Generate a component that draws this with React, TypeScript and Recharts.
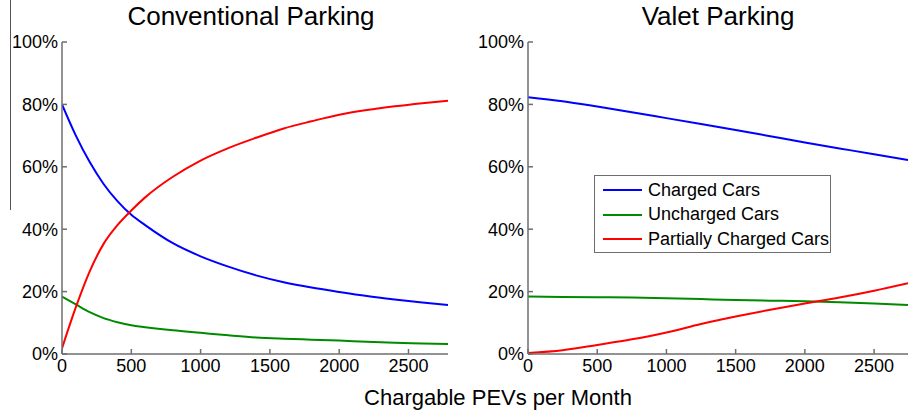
import { Line, LineChart, XAxis, YAxis } from "recharts";

// Conventional parking (left panel), values in %
const convX = [0, 100, 200, 300, 400, 500, 600, 800, 1000, 1200, 1400, 1600, 1800, 2000, 2200, 2400, 2600, 2785];
const convCharged = [80, 70, 61.5, 54.5, 49, 44.6, 41.3, 35.5, 31.3, 28, 25.2, 23, 21.3, 19.9, 18.6, 17.5, 16.5, 15.7];
const convUncharged = [18.4, 15.9, 13.4, 11.5, 10.2, 9.2, 8.6, 7.6, 6.8, 6, 5.3, 4.9, 4.6, 4.3, 3.9, 3.6, 3.4, 3.2];
const convPartial = [1.8, 15, 26.5, 35.3, 41.3, 46, 50.2, 56.8, 62, 66, 69.3, 72.3, 74.6, 76.7, 78.2, 79.4, 80.4, 81.2];

// Valet parking (right panel)
const valetX = [0, 250, 500, 750, 1000, 1250, 1500, 1750, 2000, 2250, 2500, 2745];
const valetCharged = [82.3, 81, 79.3, 77.5, 75.6, 73.7, 71.8, 69.8, 67.8, 65.9, 64, 62.2];
const valetUncharged = [18.4, 18.3, 18.2, 18.1, 17.9, 17.6, 17.3, 17.1, 16.9, 16.6, 16.2, 15.7];
const valetPartial = [0.3, 1.2, 2.9, 4.7, 6.9, 9.6, 12, 14.2, 16.2, 18.1, 20.3, 22.7];

const xTicks = [0, 500, 1000, 1500, 2000, 2500];
const yTicks = [0, 20, 40, 60, 80, 100];

const SERIES = [
	{ key: "charged", name: "Charged Cars", color: "#0000ff" },
	{ key: "uncharged", name: "Uncharged Cars", color: "#008a00" },
	{ key: "partial", name: "Partially Charged Cars", color: "#ff0000" },
];

const FONT = "'Liberation Sans', Arial, sans-serif";
const AXIS_COLOR = "#6e6e6e";

function buildRows(xs: number[], a: number[], b: number[], c: number[]) {
	return xs.map((x, i) => ({ x, charged: a[i], uncharged: b[i], partial: c[i] }));
}

const convData = buildRows(convX, convCharged, convUncharged, convPartial);
const valetData = buildRows(valetX, valetCharged, valetUncharged, valetPartial);

function LegendBox() {
	return (
		<div style={styles.legendBox}>
			{SERIES.map((s) => (
				<div key={s.key} style={styles.legendRow}>
					<span style={{ ...styles.legendLine, backgroundColor: s.color }} />
					<span>{s.name}</span>
				</div>
			))}
		</div>
	);
}

interface PanelProps {
	data: ReturnType<typeof buildRows>;
	width: number;
	xMax: number;
	yAxisWidth: number;
	marginRight: number;
}

function Panel({ data, width, xMax, yAxisWidth, marginRight }: PanelProps) {
	const tickStyle = { fill: "#000", fontSize: 18, fontFamily: FONT };
	return (
		<LineChart width={width} height={419} data={data} margin={{ top: 42, right: marginRight, bottom: 35, left: 8 }}>
			<XAxis
				dataKey="x"
				type="number"
				domain={[0, xMax]}
				ticks={xTicks}
				allowDataOverflow
				height={30}
				tickSize={-5}
				tickMargin={10}
				tick={tickStyle}
				stroke={AXIS_COLOR}
				strokeWidth={1.5}
				interval={0}
			/>
			<XAxis
				xAxisId="top"
				orientation="top"
				dataKey="x"
				type="number"
				domain={[0, xMax]}
				ticks={xTicks}
				allowDataOverflow
				height={0}
				tickSize={-5}
				tick={false}
				stroke={AXIS_COLOR}
				strokeWidth={1.5}
			/>
			<YAxis
				type="number"
				domain={[0, 100]}
				ticks={yTicks}
				width={yAxisWidth}
				tickSize={-5}
				tickMargin={9}
				tick={tickStyle}
				tickFormatter={(v: number) => `${v}%`}
				stroke={AXIS_COLOR}
				strokeWidth={1.5}
				interval={0}
			/>
			<YAxis
				yAxisId="right"
				orientation="right"
				type="number"
				domain={[0, 100]}
				ticks={yTicks}
				width={0}
				tickSize={-5}
				tick={false}
				stroke={AXIS_COLOR}
				strokeWidth={1.5}
			/>
			{SERIES.map((s) => (
				<Line
					key={s.key}
					dataKey={s.key}
					name={s.name}
					stroke={s.color}
					strokeWidth={2}
					dot={false}
					type="monotone"
					isAnimationActive={false}
				/>
			))}
		</LineChart>
	);
}

export default function App() {
	return (
		<div style={styles.page}>
			<div style={styles.artifact} />
			<div style={{ ...styles.title, left: 0, width: 502 }}>Conventional Parking</div>
			<div style={{ ...styles.title, left: 560, width: 316 }}>Valet Parking</div>
			<div style={{ position: "absolute", left: 0, top: 0 }}>
				<Panel data={convData} width={460} xMax={2785} yAxisWidth={54} marginRight={12} />
			</div>
			<div style={{ position: "absolute", left: 460, top: 0 }}>
				<Panel data={valetData} width={449} xMax={2745} yAxisWidth={60} marginRight={1} />
			</div>
			<div style={{ position: "absolute", left: 594, top: 175 }}>
				<LegendBox />
			</div>
			<div style={styles.xLabel}>Chargable PEVs per Month</div>
		</div>
	);
}

const styles = {
	page: {
		position: "absolute",
		left: 0,
		top: 0,
		width: 909,
		height: 419,
		overflow: "hidden",
		backgroundColor: "#fff",
		fontFamily: FONT,
	},
	artifact: {
		position: "absolute",
		left: 10,
		top: 0,
		width: 1,
		height: 210,
		backgroundColor: "#555",
	},
	title: {
		position: "absolute",
		top: 1,
		textAlign: "center",
		fontSize: 26,
		color: "#000",
		whiteSpace: "nowrap",
	},
	xLabel: {
		position: "absolute",
		left: 248,
		width: 500,
		top: 385,
		textAlign: "center",
		fontSize: 22,
		color: "#000",
		whiteSpace: "nowrap",
	},
	legendBox: {
		border: "1.5px solid #6e6e6e",
		backgroundColor: "#fff",
		width: 235,
		height: 74,
		boxSizing: "content-box",
		paddingTop: 2,
		fontSize: 18,
		fontFamily: FONT,
		color: "#000",
	},
	legendRow: {
		display: "flex",
		alignItems: "center",
		height: 24.5,
		whiteSpace: "nowrap",
	},
	legendLine: {
		display: "inline-block",
		width: 39,
		height: 2,
		marginLeft: 8,
		marginRight: 6,
	},
} satisfies Record<string, React.CSSProperties>;
